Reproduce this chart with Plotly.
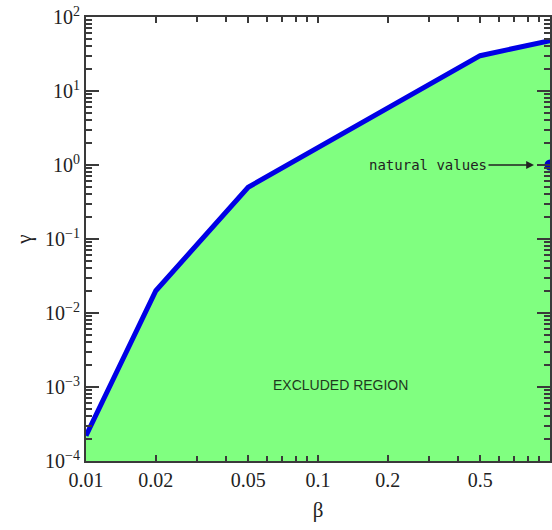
import math
import plotly.graph_objects as go

# Boundary of the excluded region in the (beta, gamma) plane
beta = [0.01, 0.02, 0.05, 0.5, 1.0]
gamma = [2.2e-4, 2.0e-2, 0.5, 30.0, 48.0]

# Natural parameter values
nat_beta = [1.0]
nat_gamma = [1.0]

x_tick_vals = [0.01, 0.02, 0.05, 0.1, 0.2, 0.5, 1]
x_tick_text = ["0.01", "0.02", "0.05", "0.1", "0.2", "0.5", "1"]
y_tick_vals = [1e-4, 1e-3, 1e-2, 1e-1, 1e0, 1e1, 1e2]
y_tick_text = ["10<sup>−4</sup>", "10<sup>−3</sup>", "10<sup>−2</sup>", "10<sup>−1</sup>",
               "10<sup>0</sup>", "10<sup>1</sup>", "10<sup>2</sup>"]

x_range = [0.01, 1.0]
y_range = [1e-4, 1e2]

AX = "#3a3a3a"
SERIF = "Liberation Serif"

minor_x = [k * 10.0 ** e for e in (-2, -1) for k in range(2, 10)]
minor_y = [k * 10.0 ** e for e in range(-4, 2) for k in range(2, 10)]

fig = go.Figure()

# Filled region beneath the boundary curve
fig.add_trace(go.Scatter(
    x=beta + [x_range[1], x_range[0]],
    y=gamma + [y_range[0], y_range[0]],
    fill="toself", fillcolor="rgb(128,255,128)",
    line=dict(width=0), mode="lines", hoverinfo="skip", showlegend=False,
))

# Boundary curve
fig.add_trace(go.Scatter(
    x=beta, y=gamma, mode="lines",
    line=dict(color="rgb(0,0,230)", width=5),
    showlegend=False,
))

# Natural values marker
fig.add_trace(go.Scatter(
    x=nat_beta, y=nat_gamma, mode="markers",
    marker=dict(color="rgb(0,0,200)", size=11),
    cliponaxis=False, showlegend=False,
))

fig.add_annotation(
    x=math.log10(nat_beta[0]), y=math.log10(nat_gamma[0]),
    xref="x", yref="y",
    text="natural values", showarrow=True,
    ax=-122, ay=0, axref="pixel", ayref="pixel",
    arrowhead=2, arrowsize=1.2, arrowwidth=1.3, arrowcolor="#222",
    standoff=16,
    font=dict(family="DejaVu Sans Mono", size=14, color="#222"),
)

fig.add_annotation(
    x=math.log10(0.125), y=math.log10(1.05e-3), xref="x", yref="y",
    text="EXCLUDED REGION", showarrow=False,
    font=dict(family="Liberation Sans Narrow, Liberation Sans", size=14, color="#1e3a1e"),
)

common = dict(
    type="log", showgrid=False, zeroline=False,
    showline=True, linecolor=AX, linewidth=2,
    ticks="inside", tickcolor=AX, tickwidth=1.5, mirror="ticks",
)

fig.update_layout(
    width=552, height=530,
    margin=dict(l=86, r=0, t=17, b=69),
    paper_bgcolor="white", plot_bgcolor="white",
    font=dict(family=SERIF, color="#222"),
    xaxis=dict(
        **common,
        range=[math.log10(x_range[0]), math.log10(x_range[1])],
        tickmode="array", tickvals=x_tick_vals, ticktext=x_tick_text,
        ticklen=6,
        minor=dict(tickmode="array", tickvals=minor_x, ticks="inside",
                   ticklen=5, tickcolor=AX, tickwidth=1.5),
        tickfont=dict(family=SERIF, size=20, color="#222"),
        title=dict(text="β", font=dict(family=SERIF, size=21, color="#222"), standoff=12),
    ),
    xaxis2=dict(
        **common, overlaying="x",
        range=[math.log10(x_range[0]), math.log10(x_range[1])],
        tickmode="array", tickvals=[0.01, 0.1, 1], ticklen=12,
        showticklabels=False,
    ),
    yaxis=dict(
        **common,
        range=[math.log10(y_range[0]), math.log10(y_range[1])],
        tickmode="array", tickvals=y_tick_vals, ticktext=y_tick_text,
        ticklen=13,
        minor=dict(tickmode="array", tickvals=minor_y, ticks="inside",
                   ticklen=6, tickcolor=AX, tickwidth=1.5),
        tickfont=dict(family=SERIF, size=20, color="#222"),
        title=dict(text="γ", font=dict(family=SERIF, size=21, color="#222"), standoff=8),
    ),
)

fig.write_html("out.html")
